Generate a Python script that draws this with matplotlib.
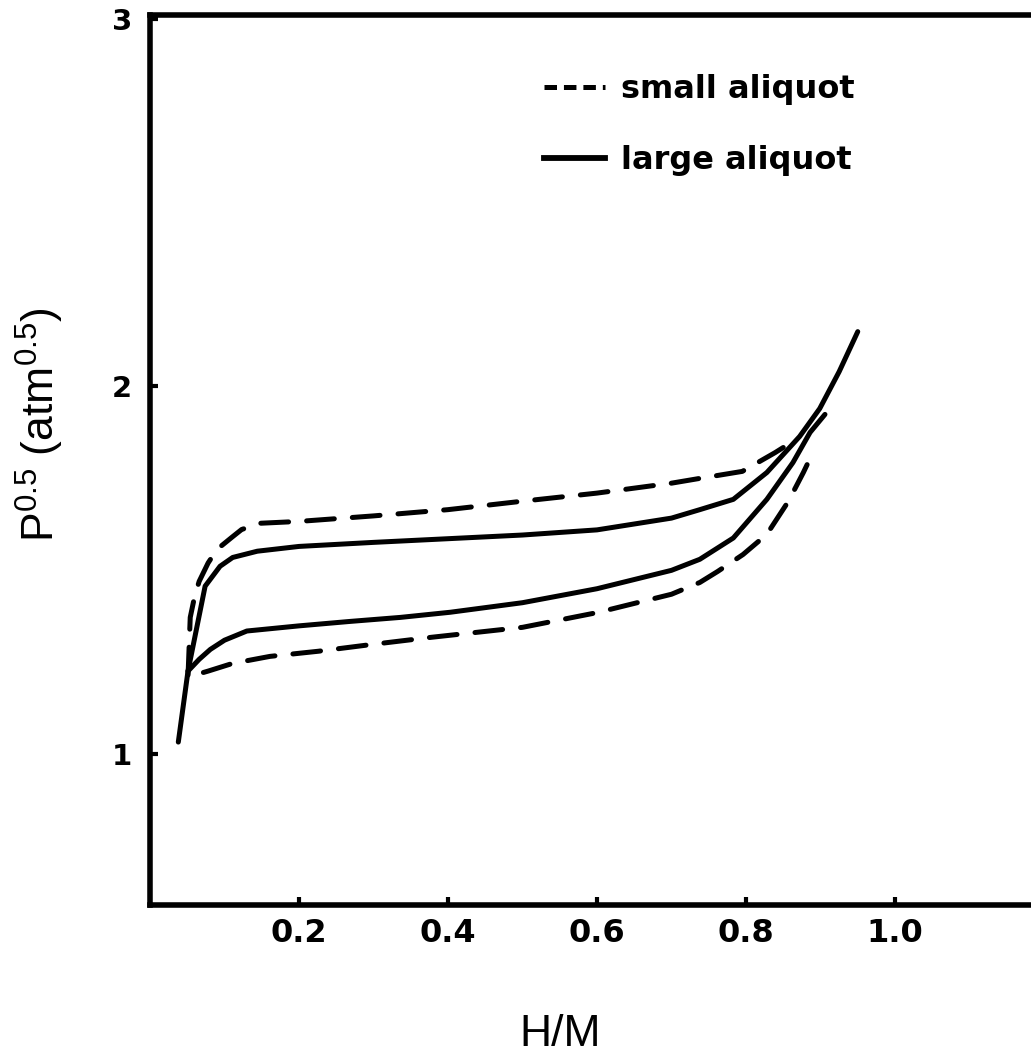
import matplotlib
matplotlib.use("Agg")
import matplotlib.pyplot as plt
from matplotlib.lines import Line2D

# large aliquot (solid), upper branch incl. low-pressure tail
large_up_x = [0.038, 0.051, 0.074, 0.094, 0.111, 0.144, 0.2, 0.3, 0.4, 0.5, 0.6, 0.7, 0.738, 0.783, 0.828, 0.872, 0.899, 0.925, 0.950]
large_up_y = [1.033, 1.226, 1.457, 1.511, 1.535, 1.552, 1.565, 1.576, 1.586, 1.596, 1.61, 1.642, 1.665, 1.693, 1.766, 1.864, 1.94, 2.04, 2.149]
# large aliquot, lower branch
large_lo_x = [0.051, 0.066, 0.081, 0.1, 0.13, 0.2, 0.268, 0.336, 0.403, 0.5, 0.6, 0.7, 0.738, 0.783, 0.828, 0.863, 0.886, 0.906]
large_lo_y = [1.226, 1.258, 1.285, 1.31, 1.335, 1.349, 1.361, 1.372, 1.386, 1.412, 1.45, 1.50, 1.53, 1.588, 1.693, 1.793, 1.875, 1.924]
# small aliquot (dashed), upper branch
small_up_x = [0.051, 0.054, 0.060, 0.066, 0.078, 0.09, 0.11, 0.123, 0.148, 0.2, 0.3, 0.4, 0.5, 0.6, 0.7, 0.738, 0.795, 0.839, 0.85]
small_up_y = [1.21, 1.372, 1.43, 1.47, 1.52, 1.557, 1.59, 1.611, 1.628, 1.633, 1.648, 1.665, 1.688, 1.71, 1.737, 1.75, 1.769, 1.82, 1.834]
# small aliquot, lower branch
small_lo_x = [0.051, 0.078, 0.111, 0.161, 0.226, 0.30, 0.378, 0.5, 0.6, 0.7, 0.738, 0.762, 0.796, 0.828, 0.857, 0.877, 0.885]
small_lo_y = [1.204, 1.226, 1.247, 1.266, 1.28, 1.299, 1.318, 1.345, 1.385, 1.435, 1.467, 1.497, 1.543, 1.598, 1.688, 1.766, 1.80]

x_ticks = [0.2, 0.4, 0.6, 0.8, 1.0]
x_labels = ["0.2", "0.4", "0.6", "0.8", "1.0"]
y_ticks = [1, 2, 3]
y_labels = ["1", "2", "3"]

plt.rcParams['font.family'] = ['Liberation Sans', 'DejaVu Sans']
plt.rcParams['mathtext.fontset'] = 'custom'
plt.rcParams['mathtext.rm'] = 'Liberation Sans'
plt.rcParams['lines.scale_dashes'] = False

bold = {'family': 'DejaVu Sans', 'weight': 'bold'}

fig = plt.figure(figsize=(10.31, 10.57), dpi=100)
ax = fig.add_axes([150/1031, 152/1057, 894/1031, 890/1057])

lw = 3.6
# dashed loop drawn as one path so the dash pattern runs continuously
dash_x = small_up_x[::-1] + small_lo_x[1:]
dash_y = small_up_y[::-1] + small_lo_y[1:]
ax.plot(dash_x, dash_y, color='black', lw=lw, dashes=(20, 13),
        dash_capstyle='round', solid_capstyle='round')
ax.plot(large_up_x, large_up_y, color='black', lw=lw, solid_capstyle='round')
ax.plot(large_lo_x, large_lo_y, color='black', lw=lw, solid_capstyle='round')

ax.set_xlim(0, 1.2)
ax.set_ylim(0.59, 3.01)
ax.set_xticks(x_ticks)
ax.set_xticklabels(x_labels, fontsize=23, **bold)
ax.set_yticks(y_ticks)
ax.set_yticklabels(y_labels, fontsize=21, **bold)
ax.tick_params(direction='in', length=6, width=3)
ax.tick_params(axis='x', pad=9)
ax.tick_params(axis='y', pad=13)
for s in ['left', 'bottom', 'top', 'right']:
    ax.spines[s].set_linewidth(4)

handles = [Line2D([], [], color='black', lw=lw, dashes=(9, 5)),
           Line2D([], [], color='black', lw=lw + 0.6)]
ax.legend(handles, ['small aliquot', 'large aliquot'], loc='upper left',
          bbox_to_anchor=(528/1031, 1 - 58/1057), bbox_transform=fig.transFigure,
          frameon=False, prop={'size': 23, **bold},
          handlelength=1.9, handletextpad=0.5, labelspacing=1.25, borderpad=0)

fig.text(40/1031, 1 - 425/1057, r'P$^{0.5}$ (atm$^{0.5}$)', rotation=90,
         ha='center', va='center', fontsize=32)
fig.text(560/1031, 1 - 1035/1057, 'H/M', ha='center', va='center', fontsize=32)

fig.savefig('out.png', dpi=100, facecolor='white')
